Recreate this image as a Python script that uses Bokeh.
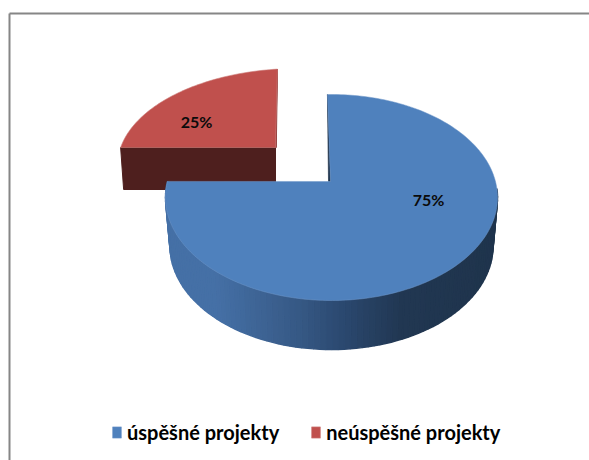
import math
from bokeh.plotting import figure
from bokeh.models import Range1d, Legend, LegendItem
from bokeh.core.properties import value
from bokeh.embed import file_html
from bokeh.resources import INLINE

categories = ["úspěšné projekty", "neúspěšné projekty"]
shares = [75, 25]
labels = ["75%", "25%"]
face_colors = ["#4f81bd", "#c0504d"]
red_side = "#4e1f1e"
FONT = "Lato"

W, H = 589, 460
p = figure(width=W, height=H, output_backend="svg", toolbar_location=None,
           x_range=Range1d(0, W), y_range=Range1d(H, 0),
           min_border=0, outline_line_color=None,
           background_fill_color="white", border_fill_color="white")
p.axis.visible = False
p.grid.visible = False

# chart frame
p.segment([9, 9], [13, 13], [9, W], [H, 13], line_color="#868686", line_width=2)

def pt(e, t):
    cx, cy, rx, ry = e
    a = math.radians(t)
    return cx + rx * math.sin(a), cy - ry * math.cos(a)

def sweep(share, k):
    return share / 100 * 360 * k

# --- red slice, pulled out (drawn behind the blue one)
RED = (297, 165, 180, 97)
r_t0 = -6.4
r_t1 = r_t0 - sweep(shares[1], 0.81)
r_apex = (275, 147)
rts = [r_t0 + (r_t1 - r_t0) * i / 60 for i in range(61)]
rface = [pt(RED, t) for t in rts]
rleft = rface[-1]
p.patch([rleft[0], r_apex[0], r_apex[0], rleft[0] + 3],
        [rleft[1], r_apex[1], r_apex[1] + 42, r_apex[1] + 42],
        fill_color=red_side, line_color=red_side, line_width=1)
p.patch([rface[0][0], r_apex[0] + 0.8, r_apex[0]], [rface[0][1], r_apex[1], r_apex[1]],
        fill_color="#8c3836", line_color="#8c3836", line_width=1)
red_r = p.patch([r_apex[0]] + [q[0] for q in rface], [r_apex[1]] + [q[1] for q in rface],
                fill_color=face_colors[1], line_color="#cf7f7c", line_width=0.6)

# --- blue slice
TOP = (331, 197, 166, 103)
BOT = (331, 245.5, 161.5, 103.5)
b_t0 = -1.4
b_t1 = b_t0 + sweep(shares[0], 1.0385)
b_apex = (330, 181)

stops = [(165, (0x45, 0x70, 0xa6)), (215, (0x45, 0x70, 0xa6)), (300, (0x36, 0x58, 0x84)),
         (340, (0x2b, 0x49, 0x70)), (400, (0x21, 0x37, 0x52)), (500, (0x1f, 0x34, 0x4c))]

def shade(x):
    for (x0, c0), (x1, c1) in zip(stops, stops[1:]):
        if x <= x1:
            f = max(0, (x - x0) / (x1 - x0))
            return "#%02x%02x%02x" % tuple(round(a + (b - a) * f) for a, b in zip(c0, c1))
    return "#%02x%02x%02x" % stops[-1][1]

n = 90
ts = [85 + (b_t1 - 85) * i / n for i in range(n + 1)]
xs, ys, cs = [], [], []
for a, b in zip(ts, ts[1:]):
    q = [pt(TOP, a), pt(TOP, b), pt(BOT, min(b, 270)), pt(BOT, min(a, 270))]
    xs.append([v[0] for v in q])
    ys.append([v[1] for v in q])
    cs.append(shade(sum(v[0] for v in q) / 4))
p.patches(xs, ys, fill_color=cs, line_color=cs, line_width=1.5)

bts = [b_t0 + (b_t1 - b_t0) * i / 240 for i in range(241)]
bface = [pt(TOP, t) for t in bts]
p.patch([bface[0][0], b_apex[0] - 2, b_apex[0]], [bface[0][1], b_apex[1], b_apex[1]],
        fill_color="#1f344c", line_color="#1f344c", line_width=0.7)
blue_r = p.patch([b_apex[0]] + [q[0] for q in bface], [b_apex[1]] + [q[1] for q in bface],
                 fill_color=face_colors[0], line_color="#6f97c8", line_width=0.5)

# --- percent labels
p.text([428, 196], [199, 121], text=labels, text_align="center", text_baseline="middle",
       text_font=value(FONT), text_font_style="bold", text_font_size="16px", text_color="#0b0b0b")

# --- legend
legend = Legend(items=[LegendItem(label=categories[0], renderers=[blue_r]),
                       LegendItem(label=categories[1], renderers=[red_r])],
                orientation="horizontal", location=(111, 16),
                glyph_width=11, glyph_height=14, label_standoff=5, spacing=31,
                padding=0, margin=0, border_line_color=None, background_fill_alpha=0,
                label_text_font=FONT, label_text_font_style="bold",
                label_text_font_size="20px", label_text_color="black")
p.add_layout(legend, "center")

open("out.html", "w").write(file_html(p, INLINE))
